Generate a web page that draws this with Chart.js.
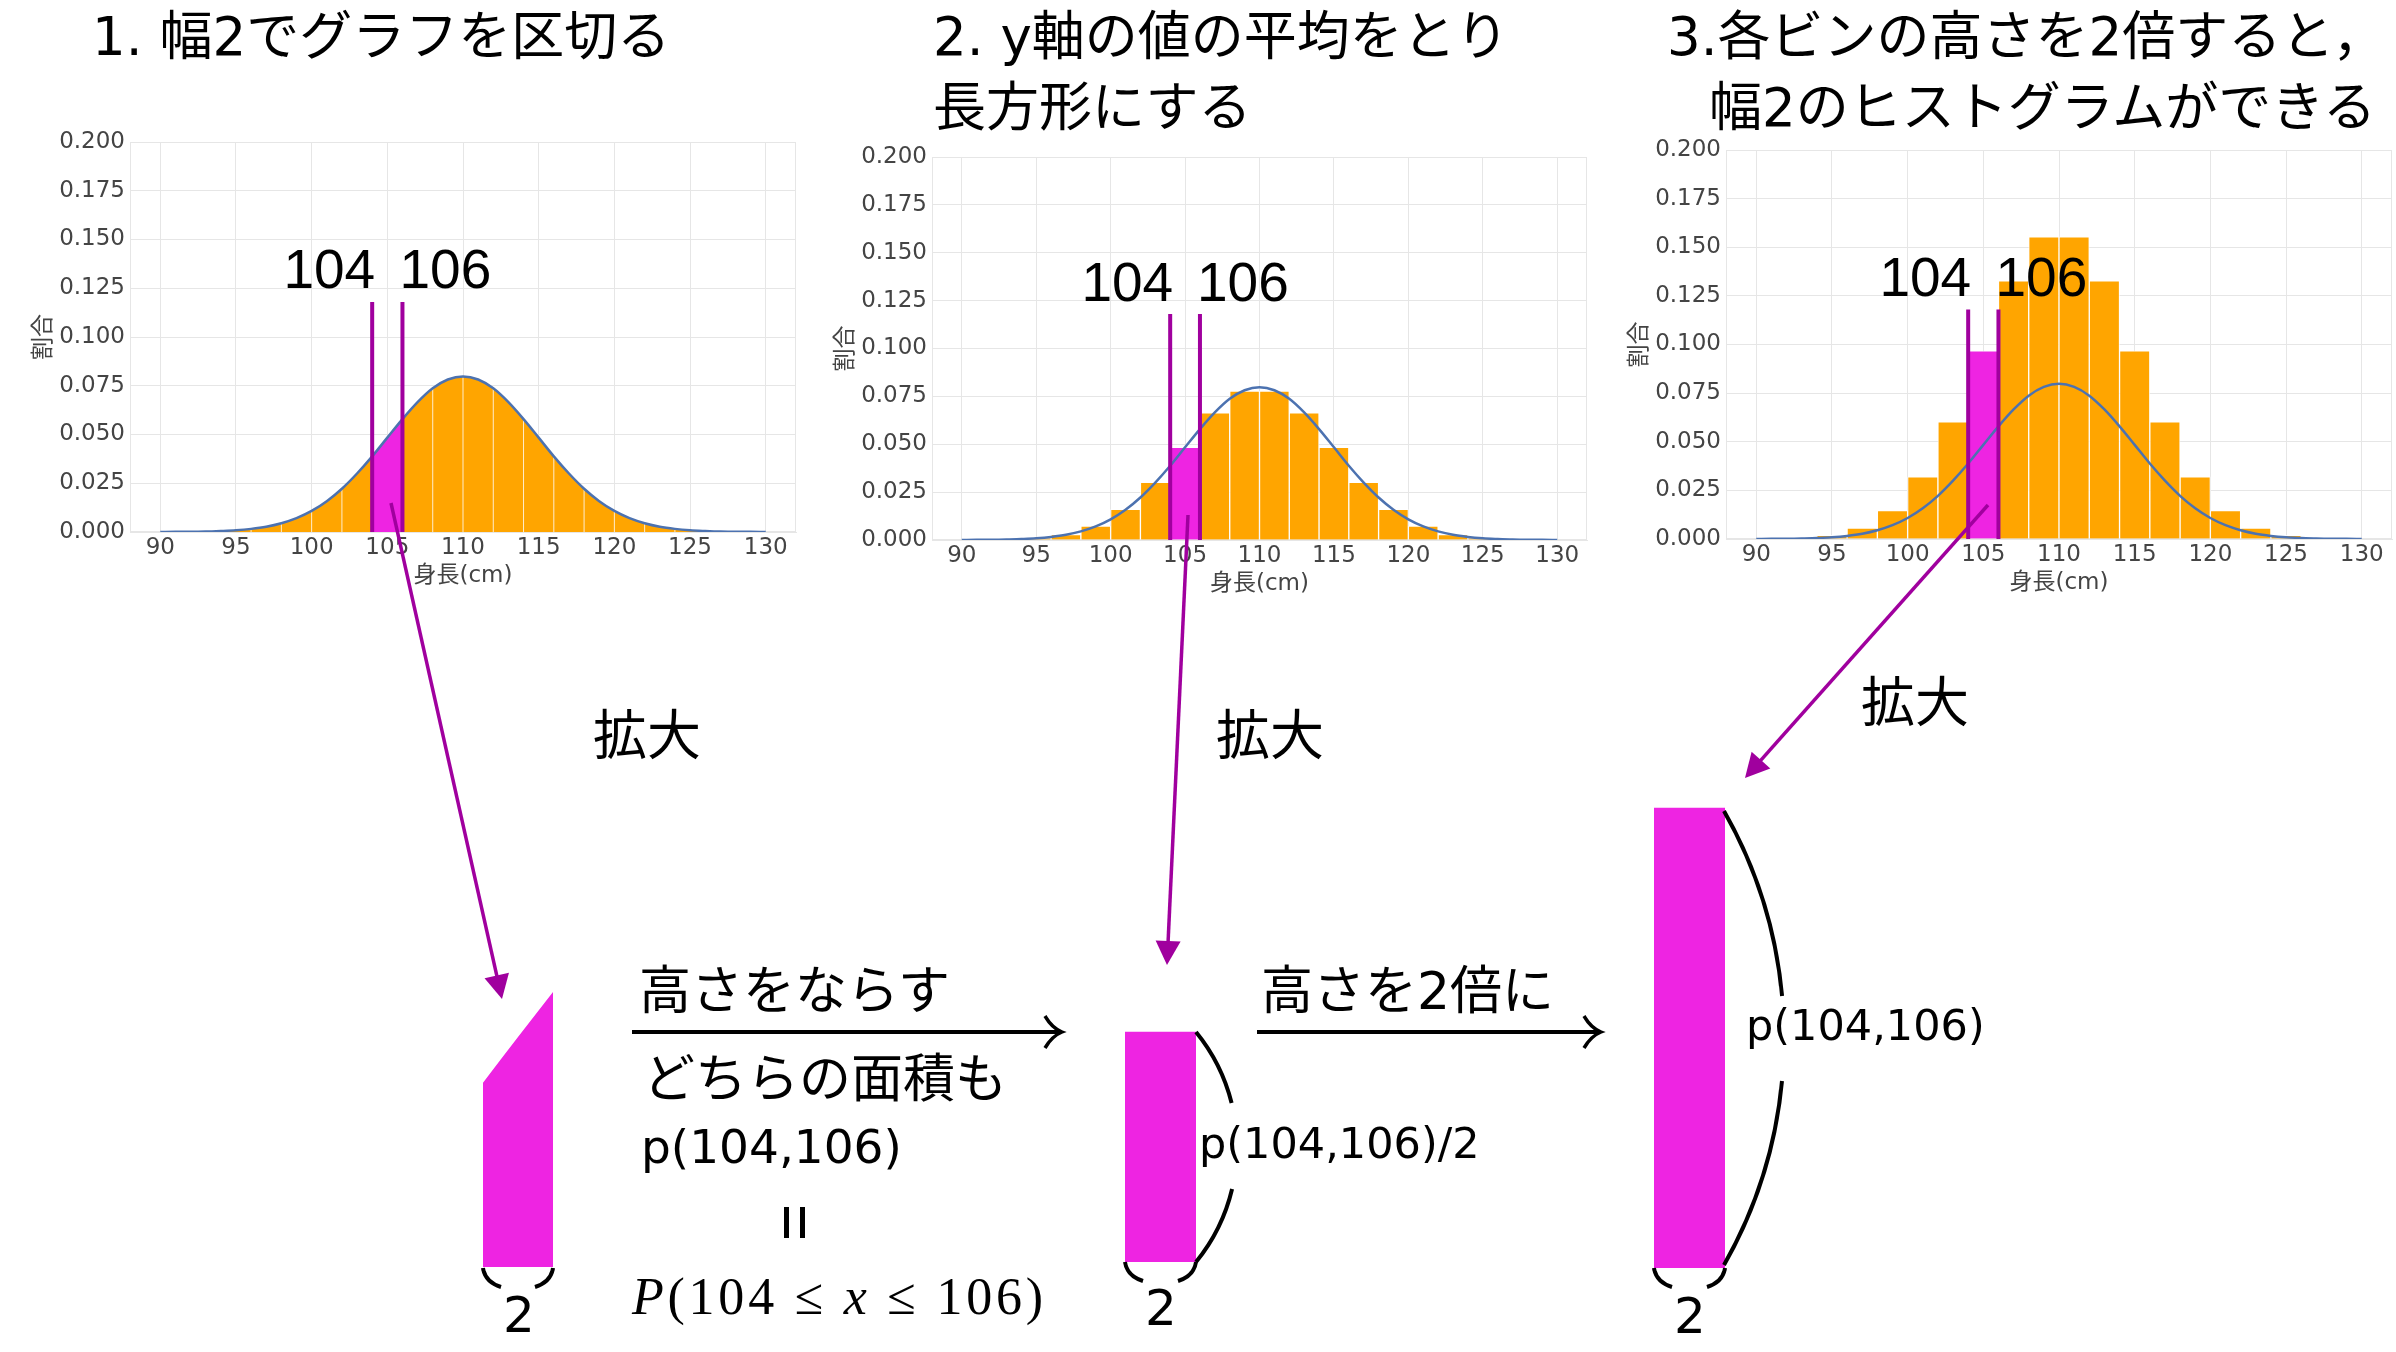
<!DOCTYPE html>
<html><head><meta charset="utf-8">
<script src="https://cdn.jsdelivr.net/npm/chart.js@4.4.1/dist/chart.umd.min.js"></script>
<style>
html,body{margin:0;padding:0;background:#fff;width:2396px;height:1352px;overflow:hidden;position:relative;}
canvas{position:absolute;display:block;}
#ov{position:absolute;left:0;top:0;width:2396px;height:1352px;pointer-events:none;}
</style></head><body>
<canvas id="c1"></canvas><canvas id="c2"></canvas><canvas id="c3"></canvas>
<canvas id="s1"></canvas><canvas id="s2"></canvas><canvas id="s3"></canvas>
<svg id="ov" xmlns="http://www.w3.org/2000/svg" width="2396" height="1352"></svg>
<script>
// ---------------- data ----------------
const curveX = [90,91,92,93,94,95,96,97,98,99,100,101,102,103,104,105,106,107,108,109,110,
                111,112,113,114,115,116,117,118,119,120,121,122,123,124,125,126,127,128,129,130];
const curveY = [0.0000,0.0001,0.0001,0.0002,0.0005,0.0009,0.0016,0.0027,0.0045,0.0071,0.0108,
                0.0158,0.0222,0.0300,0.0388,0.0484,0.0579,0.0666,0.0737,0.0782,0.0798,
                0.0782,0.0737,0.0666,0.0579,0.0484,0.0388,0.0300,0.0222,0.0158,0.0108,
                0.0071,0.0045,0.0027,0.0016,0.0009,0.0005,0.0002,0.0001,0.0001,0.0000];
const binEdges = [96,98,100,102,104,106,108,110,112,114,116,118,120,122,124];
const histCenters = [95,97,99,101,103,105,107,109,111,113,115,117,119,121,123,125];
const histMean   = [0.0009,0.0028,0.0073,0.0160,0.0301,0.0484,0.0664,0.0777,
                    0.0777,0.0664,0.0484,0.0301,0.0160,0.0073,0.0028,0.0009];
const histDouble = [0.0019,0.0056,0.0146,0.0320,0.0603,0.0968,0.1327,0.1554,
                    0.1554,0.1327,0.0968,0.0603,0.0320,0.0146,0.0056,0.0019];
const markX = [104, 106];
const markTop = 0.118;
const labelY = 0.125;
const xTicks = [90,95,100,105,110,115,120,125,130];
const yTicks = [0,0.025,0.05,0.075,0.1,0.125,0.15,0.175,0.2];
const xMin = 88, xMax = 132, yMin = 0, yMax = 0.2;
const shapeYMax = 0.1;

// ---------------- styles ----------------
const ORANGE = '#FFA500', MAGENTA = '#ee24e2', PURPLE = '#a0009e', BLUE = '#4c72b0';
const GRID = '#e6e6e6', TICK = '#444444';
const FONT = "'DejaVu Sans','Noto Sans CJK JP',sans-serif";
const YW = 130, PT = 40, PR = 20, XH = 80;

const curvePts = curveX.map((x, i) => ({x, y: curveY[i]}));
const selPts = curvePts.filter(p => p.x >= markX[0] && p.x <= markX[1]);
const curveAt = x => curveY[curveX.indexOf(x)];
const markPts = markX.flatMap(m => [{x:m, y:0}, {x:m, y:markTop}, {x:m, y:null}]);
const edgePts = binEdges.flatMap(e => [{x:e, y:0}, {x:e, y:curveAt(e)}, {x:e, y:null}]);
const inSel = c => c > markX[0] && c < markX[1];

function place(cv, left, top, w, h) {
  cv.width = w; cv.height = h;
  cv.style.left = left + 'px'; cv.style.top = top + 'px';
  cv.style.width = w + 'px'; cv.style.height = h + 'px';
}

const framePlugin = {
  id: 'frame',
  beforeDatasetsDraw(chart) {
    const {ctx, chartArea: a} = chart;
    ctx.save(); ctx.strokeStyle = GRID; ctx.lineWidth = 1;
    ctx.strokeRect(a.left + 0.5, a.top + 0.5, a.right - a.left - 1, a.bottom - a.top - 1);
    ctx.restore();
  }
};
const markLabelPlugin = {
  id: 'marklabels',
  afterDatasetsDraw(chart) {
    const {ctx, scales: {x, y}} = chart;
    ctx.save();
    ctx.font = "55px 'Liberation Sans', Arial, sans-serif";
    ctx.fillStyle = '#000'; ctx.textBaseline = 'alphabetic';
    ctx.textAlign = 'right';
    ctx.fillText(String(markX[0]), x.getPixelForValue(markX[0]) + 3, y.getPixelForValue(labelY));
    ctx.textAlign = 'left';
    ctx.fillText(String(markX[1]), x.getPixelForValue(markX[1]) - 3, y.getPixelForValue(labelY));
    ctx.restore();
  }
};

function mainChart(id, box, datasets) {
  const cv = document.getElementById(id);
  place(cv, box.L - YW, box.T - PT, box.R - box.L + YW + PR, box.B - box.T + PT + XH);
  const tf = {size: 23, family: FONT};
  const lh = 23 * 1.2;
  return new Chart(cv, {
    type: 'line',
    data: {datasets},
    options: {
      responsive: false, animation: false, devicePixelRatio: 1,
      layout: {padding: {left: 0, top: PT, right: PR, bottom: 0}, autoPadding: false},
      plugins: {legend: {display: false}, tooltip: {enabled: false}},
      elements: {point: {radius: 0, hoverRadius: 0}},
      scales: {
        x: {type: 'linear', min: xMin, max: xMax, offset: false,
            afterBuildTicks: s => { s.ticks = xTicks.map(v => ({value: v})); },
            afterFit: s => { s.height = XH; },
            grid: {color: GRID, offset: false, drawTicks: false, lineWidth: 1},
            border: {display: true, color: GRID},
            ticks: {font: tf, color: TICK, padding: 2, maxRotation: 0, autoSkip: false},
            title: {display: true, text: '身長(cm)', font: tf, color: TICK,
                    padding: {top: 0, bottom: 36 - lh / 2}}},
        y: {type: 'linear', min: yMin, max: yMax,
            afterBuildTicks: s => { s.ticks = yTicks.map(v => ({value: v})); },
            afterFit: s => { s.width = YW; },
            grid: {color: GRID, drawTicks: false, lineWidth: 1},
            border: {display: true, color: GRID},
            ticks: {font: tf, color: TICK, padding: 5, callback: v => Number(v).toFixed(3)},
            title: {display: true, text: '割合', font: tf, color: TICK,
                    padding: {top: 44 - lh / 2, bottom: 0}}}
      }
    },
    plugins: [framePlugin, markLabelPlugin]
  });
}

const curveDs = () => ({type: 'line', data: curvePts, borderColor: BLUE, borderWidth: 2.5, fill: false,
                        cubicInterpolationMode: 'monotone', order: 2});
const markDs = () => ({type: 'line', data: markPts, borderColor: PURPLE, borderWidth: 4, fill: false,
                       spanGaps: false, order: 1});
const barDs = vals => ({type: 'bar', data: histCenters.map((c, i) => ({x: c, y: vals[i]})),
                        backgroundColor: histCenters.map(c => inSel(c) ? MAGENTA : ORANGE),
                        borderColor: 'rgba(255,255,255,0.75)', borderWidth: 1,
                        barPercentage: 1, categoryPercentage: 1, grouped: false, order: 3});

// Chart 1: area under the curve
mainChart('c1', {L: 130, T: 142, R: 796, B: 532}, [
  {type: 'line', data: curvePts, fill: 'origin', backgroundColor: ORANGE, borderColor: 'rgba(0,0,0,0)',
   borderWidth: 0, cubicInterpolationMode: 'monotone', order: 5},
  {type: 'line', data: selPts, fill: 'origin', backgroundColor: MAGENTA, borderColor: 'rgba(0,0,0,0)',
   borderWidth: 0, cubicInterpolationMode: 'monotone', order: 4},
  {type: 'line', data: edgePts, borderColor: 'rgba(255,255,255,0.8)', borderWidth: 1, fill: false,
   spanGaps: false, order: 3},
  curveDs(), markDs()
]);
// Chart 2: mean-height histogram
mainChart('c2', {L: 932, T: 157, R: 1587, B: 540}, [barDs(histMean), curveDs(), markDs()]);
// Chart 3: doubled histogram
mainChart('c3', {L: 1726, T: 150, R: 2392, B: 539}, [barDs(histDouble), curveDs(), markDs()]);

// ---------------- enlarged shapes ----------------
const SCALE_PX = 4752; // px per unit of density in the enlarged shapes
function miniChart(id, left, width, bottom, cfg) {
  const cv = document.getElementById(id);
  const h = Math.round(shapeYMax * SCALE_PX);
  place(cv, left, bottom - h, width, h);
  cfg.options = Object.assign({
    responsive: false, animation: false, devicePixelRatio: 1,
    layout: {padding: 0, autoPadding: false},
    plugins: {legend: {display: false}, tooltip: {enabled: false}},
    elements: {point: {radius: 0, hoverRadius: 0}}
  }, cfg.options);
  return new Chart(cv, cfg);
}
miniChart('s1', 483, 70, 1267, {
  type: 'line',
  data: {datasets: [{data: selPts, fill: 'origin', backgroundColor: MAGENTA, borderColor: 'rgba(0,0,0,0)',
                     borderWidth: 0, cubicInterpolationMode: 'monotone'}]},
  options: {scales: {x: {type: 'linear', min: markX[0], max: markX[1], display: false},
                     y: {min: 0, max: shapeYMax, display: false}}}
});
const selIdx = histCenters.findIndex(inSel);
miniChart('s2', 1125, 71, 1262, {
  type: 'bar',
  data: {labels: [markX[0] + '-' + markX[1]],
         datasets: [{data: [histMean[selIdx]], backgroundColor: MAGENTA, barPercentage: 1, categoryPercentage: 1}]},
  options: {scales: {x: {display: false}, y: {min: 0, max: shapeYMax, display: false}}}
});
miniChart('s3', 1654, 71, 1268, {
  type: 'bar',
  data: {labels: [markX[0] + '-' + markX[1]],
         datasets: [{data: [histDouble[selIdx]], backgroundColor: MAGENTA, barPercentage: 1, categoryPercentage: 1}]},
  options: {scales: {x: {display: false}, y: {min: 0, max: shapeYMax, display: false}}}
});

// ---------------- annotations (SVG overlay) ----------------
const JP = "'DejaVu Sans','Noto Sans CJK JP',sans-serif";
let svg = '';
function txt(x, y, s, size, extra) {
  svg += `<text x="${x}" y="${y}" font-size="${size}" font-family="${JP}" fill="#000" ${extra || ''}>${s}</text>`;
}
function parrow(x1, y1, x2, y2) {
  const dx = x2 - x1, dy = y2 - y1, L = Math.hypot(dx, dy), ux = dx / L, uy = dy / L;
  const hl = 24, hw = 12.5;
  const bx = x2 - ux * hl, by = y2 - uy * hl, px = -uy, py = ux;
  svg += `<line x1="${x1}" y1="${y1}" x2="${bx + ux * 4}" y2="${by + uy * 4}" stroke="${PURPLE}" stroke-width="3.5"/>`;
  svg += `<polygon points="${x2},${y2} ${bx + px * hw},${by + py * hw} ${bx - px * hw},${by - py * hw}" fill="${PURPLE}"/>`;
}
function harrow(x1, x2, y) {
  svg += `<line x1="${x1}" y1="${y}" x2="${x2 - 1}" y2="${y}" stroke="#000" stroke-width="4"/>`;
  svg += `<path d="M${x2 - 17},${y - 16} Q${x2 - 10},${y - 4} ${x2},${y} Q${x2 - 10},${y + 4} ${x2 - 17},${y + 16}" fill="none" stroke="#000" stroke-width="3.5"/>`;
}
function brace(l, r, b) {
  svg += `<path d="M${l},${b} Q${l + 2},${b + 14} ${l + 18},${b + 19}" fill="none" stroke="#000" stroke-width="4"/>`;
  svg += `<path d="M${r},${b} Q${r - 2},${b + 14} ${r - 18},${b + 19}" fill="none" stroke="#000" stroke-width="4"/>`;
}
function bigArc(x, top, bottom, bulge, gapTop, gapBot) {
  const half = (bottom - top) / 2, cy = (top + bottom) / 2;
  const R = (half * half + bulge * bulge) / (2 * bulge), cx = x + bulge - R;
  const xa = cx + Math.sqrt(R * R - (gapTop - cy) ** 2), xb = cx + Math.sqrt(R * R - (gapBot - cy) ** 2);
  svg += `<path d="M${x},${top} A${R},${R} 0 0 1 ${xa},${gapTop} M${xb},${gapBot} A${R},${R} 0 0 1 ${x},${bottom}" fill="none" stroke="#000" stroke-width="4"/>`;
}

// titles
txt(92, 55, '1. 幅2でグラフを区切る', 53);
txt(933, 55, '2. y軸の値の平均をとり', 53);
txt(933, 126, '長方形にする', 53);
txt(1667, 55, '3.各ビンの高さを2倍すると，', 53);
txt(1709, 126, '幅2のヒストグラムができる', 53);
// 拡大
txt(593, 755, '拡大', 54);
txt(1216, 755, '拡大', 54);
txt(1861, 722, '拡大', 54);
// purple arrows
parrow(391, 503, 502, 999);
parrow(1188, 515, 1167, 965);
parrow(1988, 505, 1745, 778);
// middle texts
txt(639, 1009, '高さをならす', 52);
harrow(632, 1062, 1032);
txt(643, 1097, 'どちらの面積も', 52);
txt(641, 1163, 'p(104,106)', 47);
svg += `<rect x="784" y="1207" width="5" height="31" fill="#000"/><rect x="800" y="1207" width="5" height="31" fill="#000"/>`;
svg += `<text x="632" y="1314" font-size="52" font-family="'Liberation Serif','Times New Roman',serif" fill="#000" textLength="411" lengthAdjust="spacing"><tspan font-style="italic">P</tspan>(104 ≤ <tspan font-style="italic">x</tspan> ≤ 106)</text>`;
txt(1261, 1009, '高さを2倍に', 52);
harrow(1257, 1601, 1032);
// braces and width labels
brace(483, 553, 1268); txt(519, 1332, '2', 50, 'text-anchor="middle"');
brace(1125, 1196, 1262); txt(1161, 1325, '2', 50, 'text-anchor="middle"');
brace(1654, 1725, 1268); txt(1690, 1333, '2', 50, 'text-anchor="middle"');
// height arcs
bigArc(1196, 1032, 1262, 41, 1103, 1189);
txt(1199, 1158, 'p(104,106)/2', 43);
bigArc(1724, 811, 1265, 60, 996, 1081);
txt(1746, 1040, 'p(104,106)', 43);
document.getElementById('ov').innerHTML = svg;
</script>
</body></html>
